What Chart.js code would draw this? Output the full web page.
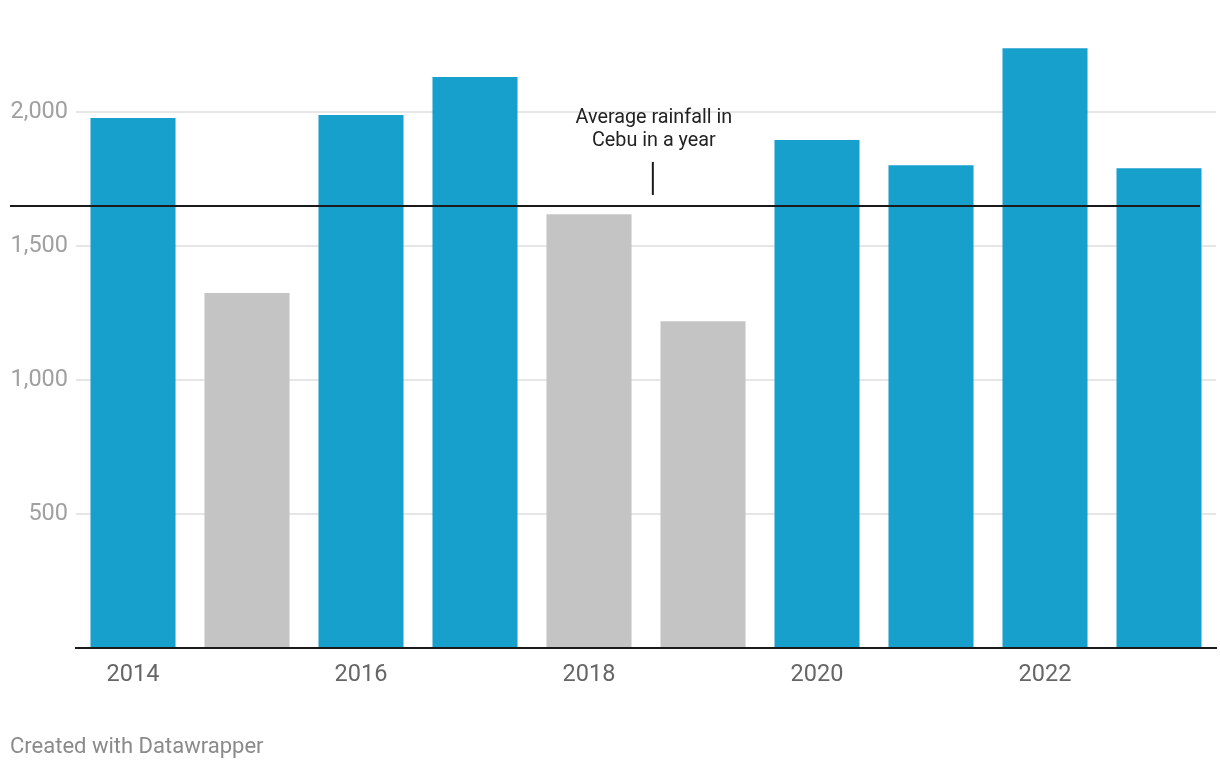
<!DOCTYPE html>
<html>
<head>
<meta charset="utf-8">
<script src="https://cdn.jsdelivr.net/npm/chart.js@4"></script>
<style>
  html, body { margin: 0; padding: 0; background: #fff; }
  #wrap { position: relative; width: 1220px; height: 770px; }
  #footer {
    position: absolute; left: 10px; top: 733px;
    font: 22px Roboto, sans-serif; color: #8a8a8a;
  }
</style>
</head>
<body>
<div id="wrap">
  <canvas id="rainChart" width="1220" height="770"></canvas>
  <div id="footer">Created with Datawrapper</div>
</div>
<script>
const years = ['2014', '2015', '2016', '2017', '2018', '2019', '2020', '2021', '2022', '2023'];
const rainfall = [1978, 1325, 1989, 2131, 1619, 1220, 1896, 1802, 2239, 1791];
const averageRainfall = 1650;
const yTicks = [500, 1000, 1500, 2000];
const annotationLines = ['Average rainfall in', 'Cebu in a year'];

const blue = '#18a0cd';
const grey = '#c4c4c4';

// bars above the yearly average are blue, the others grey
const barColors = rainfall.map(v => v >= averageRainfall ? blue : grey);

const averageLine = {
  id: 'averageLine',
  afterDatasetsDraw(chart) {
    const ctx = chart.ctx;
    const y = chart.scales.y.getPixelForValue(averageRainfall);
    const x4 = chart.scales.x.getPixelForValue(4);
    const x5 = chart.scales.x.getPixelForValue(5);
    const xa = x4 + (x5 - x4) * 0.56;
    ctx.save();
    ctx.strokeStyle = '#1a1a1a';
    ctx.lineWidth = 2;
    ctx.beginPath();
    ctx.moveTo(10, y);
    ctx.lineTo(1200, y);
    ctx.stroke();
    // little marker between label and line
    ctx.beginPath();
    ctx.moveTo(xa, y - 44);
    ctx.lineTo(xa, y - 11);
    ctx.stroke();
    ctx.fillStyle = '#222';
    ctx.font = '19.8px Roboto';
    ctx.textAlign = 'center';
    ctx.textBaseline = 'middle';
    annotationLines.forEach((t, i) => {
      ctx.fillText(t, xa + 1, y - 88 + i * 23);
    });
    ctx.restore();
  }
};

const config = {
  type: 'bar',
  data: {
    labels: years,
    datasets: [{
      label: 'Rainfall',
      data: rainfall,
      backgroundColor: barColors,
      categoryPercentage: 1,
      barPercentage: 0.746
    }]
  },
  options: {
    responsive: false,
    animation: false,
    layout: {
      padding: { top: 5, right: 4, bottom: 0, left: 0 }
    },
    plugins: {
      legend: { display: false },
      tooltip: { enabled: false }
    },
    scales: {
      x: {
        grid: { display: false, drawTicks: false },
        border: { display: true, color: '#1a1a1a', width: 2 },
        ticks: {
          autoSkip: false,
          maxRotation: 0,
          padding: 13,
          color: '#666',
          font: { family: 'Roboto', size: 23.5 },
          callback: function(val, i) {
            return i % 2 === 0 ? years[i] : '';
          }
        },
        afterFit(scale) {
          scale.height = 122;
          scale.paddingLeft = 0;
          scale.paddingRight = 0;
        }
      },
      y: {
        min: 0,
        max: 2400,
        afterBuildTicks(scale) {
          scale.ticks = [0].concat(yTicks).map(v => ({ value: v }));
        },
        grid: {
          drawTicks: false,
          color: ctx => ctx.tick && ctx.tick.value === 0 ? 'rgba(0,0,0,0)' : '#e6e6e6',
          lineWidth: 2
        },
        border: { display: false },
        ticks: {
          padding: 8,
          color: '#a0a0a0',
          font: { family: 'Roboto', size: 23.5 },
          callback: v => v === 0 ? '' : v.toLocaleString('en-US')
        },
        afterFit(scale) {
          scale.width = 76;
          scale.paddingTop = 0;
          scale.paddingBottom = 0;
        }
      }
    }
  },
  plugins: [averageLine]
};

const rainChart = new Chart(document.getElementById('rainChart'), config);
</script>
</body>
</html>
